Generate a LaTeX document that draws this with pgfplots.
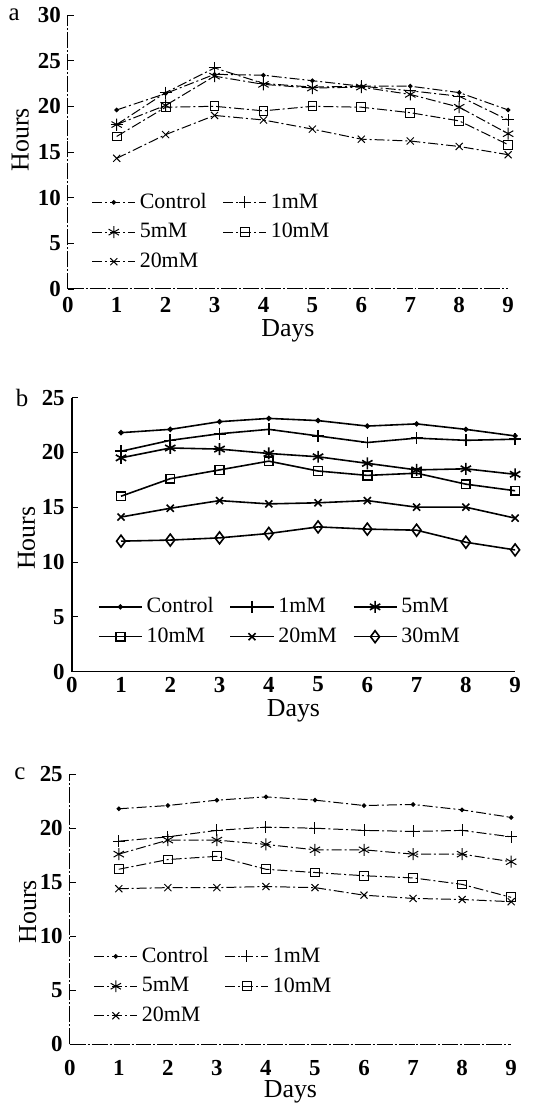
\documentclass[border=0pt]{standalone}
\usepackage{fontspec}
\setmainfont{Liberation Serif}
\usepackage{pgfplots}
\pgfplotsset{compat=1.18}

\tikzset{
  scanline/.style={black, line width=0.5pt, dash pattern=on 5pt off 1.5pt on 1pt off 1.5pt},
  solidline/.style={black, line width=0.8pt},
  mctl/.style={mark=*, mark size=0.9pt},
  m1/.style={mark=+, mark size=3pt},
  m5/.style={mark=asterisk, mark size=3pt},
  m10/.style={mark=square, mark size=2.2pt},
  m20/.style={mark=x, mark size=2.5pt},
  m30/.style={mark=diamond, mark size=3pt},
  lab/.style={font=\fontsize{13}{15}\selectfont, anchor=center, inner sep=0pt},
}

\pgfplotsset{
  panel/.style={
    scale only axis,
    xmin=0, xmax=9, ymin=0,
    axis x line*=bottom, axis y line*=left,
    xtick={0,...,9},
    tick label style={font=\fontsize{11.5}{13}\selectfont\bfseries},
    xticklabel style={anchor=center, inner sep=1pt},
    /pgf/number format/assume math mode=true,
    x tick style={draw=none},
    y tick style={black, thin},
    major tick length=3pt,
    legend style={draw=none, fill=none, anchor=north west,
      font=\fontsize{11}{13}\selectfont, row sep=2pt,
      /tikz/every even column/.append style={column sep=6pt}},
    legend cell align=left,
    legend image code/.code={
      \draw[mark repeat=2,mark phase=2] plot coordinates {(0cm,0cm) (0.38cm,0cm) (0.76cm,0cm)};},
    clip=false,
  },
}

\begin{document}
\begin{tikzpicture}
\useasboundingbox (0,0) rectangle (273pt,-555pt);

% ---- panel a
\begin{axis}[panel, at={(34pt,-145pt)}, anchor=south west,
  width=221pt, height=137.5pt, ymax=30, ytick={0,5,...,30},
  axis line style={black, line width=0.5pt, dash pattern=on 8pt off 1pt on 1pt off 1pt},
  xticklabel style={yshift=-8pt},
  legend columns=2,
  legend style={at={(axis description cs:0.04,0.38)}},
  every axis plot/.append style={scanline, mark options={solid}}]
\addplot[mctl] coordinates {(1,19.6) (2,21.4) (3,23.5) (4,23.4) (5,22.8) (6,22.2) (7,22.2) (8,21.5) (9,19.6)};
\addplot[m1] coordinates {(1,18.0) (2,21.5) (3,24.2) (4,22.5) (5,22.1) (6,22.2) (7,21.7) (8,21.1) (9,18.5)};
\addplot[m5] coordinates {(1,18.0) (2,20.1) (3,23.3) (4,22.4) (5,22.0) (6,22.1) (7,21.3) (8,19.9) (9,17.0)};
\addplot[m10] coordinates {(1,16.7) (2,19.9) (3,20.0) (4,19.5) (5,20.0) (6,19.9) (7,19.3) (8,18.4) (9,15.8)};
\addplot[m20] coordinates {(1,14.3) (2,16.9) (3,19.0) (4,18.5) (5,17.5) (6,16.4) (7,16.2) (8,15.6) (9,14.7)};
\legend{Control,1mM,5mM,10mM,20mM}
\node[font=\fontsize{12.5}{14}\selectfont] at (axis description cs:-0.122,1) {a};
\node[lab] at (axis description cs:0.5,-0.152) {Days};
\node[lab, rotate=90] at (axis description cs:-0.108,0.545) {Hours};
\end{axis}

% ---- panel b
\begin{axis}[panel, at={(36pt,-337pt)}, anchor=south west,
  width=222.5pt, height=137.5pt, ymax=25, ytick={0,5,...,25},
  axis line style={black, line width=0.8pt},
  xticklabel style={yshift=-6.5pt},
  legend columns=3,
  legend style={at={(axis description cs:0.045,0.30)}},
  every axis plot/.append style={solidline, mark options={solid}}]
\addplot[mctl] coordinates {(1,21.8) (2,22.1) (3,22.8) (4,23.1) (5,22.9) (6,22.4) (7,22.6) (8,22.1) (9,21.5)};
\addplot[m1] coordinates {(1,20.1) (2,21.1) (3,21.7) (4,22.1) (5,21.5) (6,20.9) (7,21.3) (8,21.1) (9,21.2)};
\addplot[m5] coordinates {(1,19.5) (2,20.4) (3,20.3) (4,19.9) (5,19.6) (6,19.0) (7,18.4) (8,18.5) (9,18.0)};
\addplot[m10] coordinates {(1,16.0) (2,17.6) (3,18.4) (4,19.2) (5,18.3) (6,17.9) (7,18.1) (8,17.1) (9,16.5)};
\addplot[m20] coordinates {(1,14.1) (2,14.9) (3,15.6) (4,15.3) (5,15.4) (6,15.6) (7,15.0) (8,15.0) (9,14.0)};
\addplot[m30] coordinates {(1,11.9) (2,12.0) (3,12.2) (4,12.6) (5,13.2) (6,13.0) (7,12.9) (8,11.8) (9,11.1)};
\legend{Control,1mM,5mM,10mM,20mM,30mM}
\node[font=\fontsize{12.5}{14}\selectfont] at (axis description cs:-0.112,1) {b};
\node[lab] at (axis description cs:0.5,-0.142) {Days};
\node[lab, rotate=90] at (axis description cs:-0.102,0.487) {Hours};
\end{axis}

% ---- panel c
\begin{axis}[panel, at={(35pt,-524pt)}, anchor=south west,
  width=221.5pt, height=135.5pt, ymax=25, ytick={0,5,...,25},
  axis line style={black, line width=0.5pt, dash pattern=on 8pt off 1pt on 1pt off 1pt},
  xticklabel style={yshift=-12pt},
  legend columns=2,
  legend style={at={(axis description cs:0.04,0.39)}},
  every axis plot/.append style={scanline, mark options={solid}}]
\addplot[mctl] coordinates {(1,21.8) (2,22.1) (3,22.6) (4,22.9) (5,22.6) (6,22.1) (7,22.2) (8,21.7) (9,21.0)};
\addplot[m1] coordinates {(1,18.8) (2,19.2) (3,19.8) (4,20.1) (5,20.0) (6,19.8) (7,19.7) (8,19.8) (9,19.2)};
\addplot[m5] coordinates {(1,17.6) (2,18.9) (3,18.9) (4,18.5) (5,18.0) (6,18.0) (7,17.6) (8,17.6) (9,16.9)};
\addplot[m10] coordinates {(1,16.2) (2,17.1) (3,17.4) (4,16.2) (5,15.9) (6,15.6) (7,15.4) (8,14.8) (9,13.6)};
\addplot[m20] coordinates {(1,14.4) (2,14.5) (3,14.5) (4,14.6) (5,14.5) (6,13.8) (7,13.5) (8,13.4) (9,13.2)};
\legend{Control,1mM,5mM,10mM,20mM}
\node[font=\fontsize{12.5}{14}\selectfont] at (axis description cs:-0.113,1) {c};
\node[lab] at (axis description cs:0.5,-0.178) {Days};
\node[lab, rotate=90] at (axis description cs:-0.095,0.49) {Hours};
\end{axis}
\end{tikzpicture}
\end{document}
